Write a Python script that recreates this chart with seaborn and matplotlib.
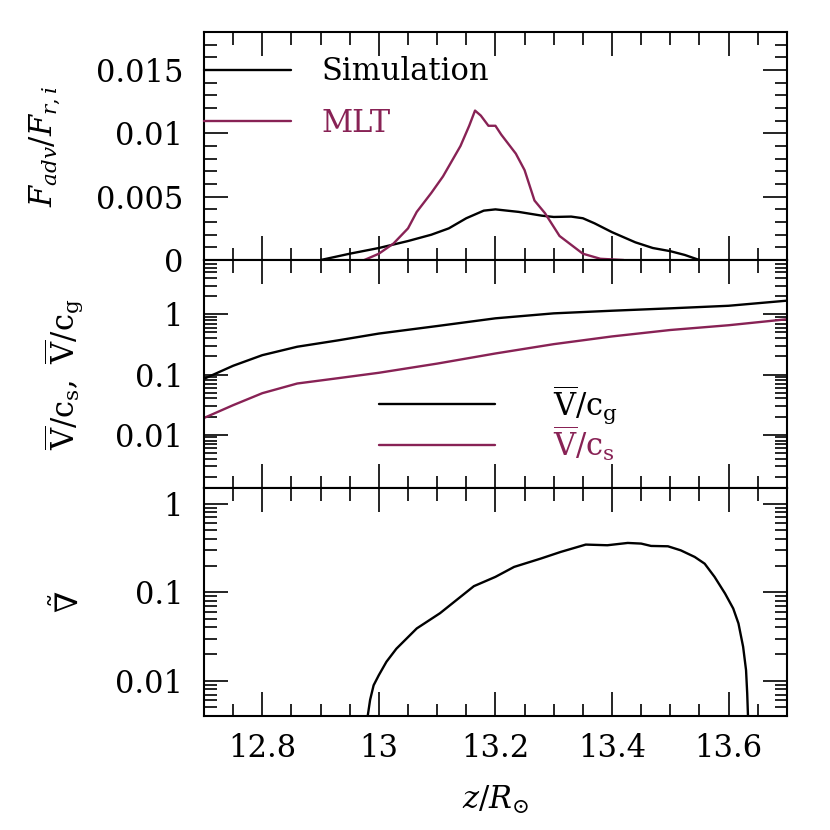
import matplotlib.pyplot as plt
import matplotlib.ticker as mticker
import seaborn as sns

# Top panel: advective flux / radiative flux
sim_z = [12.90, 12.95, 13.00, 13.05, 13.09, 13.12, 13.15, 13.18, 13.20, 13.24,
         13.28, 13.30, 13.33, 13.35, 13.37, 13.40, 13.44, 13.47, 13.50, 13.525, 13.55]
sim_f = [0.0, 0.0005, 0.00095, 0.0015, 0.0020, 0.0025, 0.0033, 0.0039, 0.0040, 0.0038,
         0.0035, 0.0034, 0.00343, 0.0033, 0.0029, 0.0022, 0.0014, 0.00095, 0.0007, 0.0004, 0.0]

mlt_z = [12.975, 13.00, 13.025, 13.05, 13.065, 13.09, 13.11, 13.14, 13.155, 13.165,
         13.175, 13.188, 13.20, 13.21, 13.235, 13.25, 13.267, 13.285, 13.31, 13.35,
         13.38, 13.42]
mlt_f = [0.0, 0.0005, 0.0013, 0.0025, 0.0038, 0.0053, 0.0066, 0.0090, 0.0106, 0.0118,
         0.0114, 0.0106, 0.0106, 0.0099, 0.0084, 0.0071, 0.0047, 0.0037, 0.0019, 0.0005,
         0.0001, 0.0]

# Middle panel: velocity over gas / sound speed
vel_z = [12.70, 12.75, 12.80, 12.86, 12.93, 13.00, 13.10, 13.20, 13.30, 13.40,
         13.50, 13.60, 13.70]
v_cg = [0.085, 0.14, 0.21, 0.29, 0.37, 0.48, 0.64, 0.86, 1.04, 1.15, 1.26, 1.39, 1.69]
v_cs = [0.019, 0.031, 0.049, 0.071, 0.087, 0.107, 0.152, 0.224, 0.32, 0.43, 0.55, 0.66, 0.83]

# Bottom panel: superadiabatic gradient
grad_z = [12.978, 12.985, 12.991, 13.00, 13.013, 13.03, 13.065, 13.105, 13.163, 13.20,
          13.232, 13.278, 13.312, 13.355, 13.392, 13.427, 13.45, 13.467, 13.496, 13.518,
          13.542, 13.559, 13.576, 13.594, 13.608, 13.617, 13.625, 13.63, 13.632, 13.634]
grad = [0.003, 0.0061, 0.0089, 0.0116, 0.0164, 0.023, 0.039, 0.058, 0.117, 0.149,
        0.193, 0.24, 0.285, 0.345, 0.339, 0.36, 0.354, 0.333, 0.33, 0.297,
        0.25, 0.21, 0.149, 0.0966, 0.0655, 0.0444, 0.0242, 0.0132, 0.0072, 0.003]

sns.set_style('ticks')
plt.rcParams['font.family'] = ['DejaVu Serif']
plt.rcParams['mathtext.fontset'] = 'dejavuserif'
plt.rcParams['text.color'] = 'black'
plt.rcParams['axes.labelcolor'] = 'black'
plt.rcParams['xtick.color'] = 'black'
plt.rcParams['ytick.color'] = 'black'

wine = '#882255'
fs = 22
lw = 1.7

fig, axes = plt.subplots(3, 1, figsize=(8.3, 8.3), dpi=100, sharex=True)
fig.subplots_adjust(left=0.2458, right=0.948, top=0.9614, bottom=0.1373, hspace=0)
ax1, ax2, ax3 = axes

fmt = mticker.FuncFormatter(lambda v, p: f'{v:g}')

# top panel
sns.lineplot(x=sim_z, y=sim_f, ax=ax1, color='black', lw=lw, label='Simulation')
sns.lineplot(x=mlt_z, y=mlt_f, ax=ax1, color=wine, lw=lw, label='MLT')
ax1.set_ylim(0, 0.018)
ax1.yaxis.set_major_locator(mticker.MultipleLocator(0.005))
ax1.yaxis.set_minor_locator(mticker.MultipleLocator(0.001))
ax1.yaxis.set_major_formatter(fmt)
ax1.legend(loc='center left', bbox_to_anchor=(0.0, 0.713), frameon=False, fontsize=fs,
           borderpad=0, borderaxespad=0, handlelength=2.85, handletextpad=1.0,
           labelspacing=0.66, labelcolor='linecolor')
ax1.set_ylabel(r'$F_{adv}/F_{r,i}$', fontsize=fs, va='center')
ax1.yaxis.set_label_coords(-0.273, 0.5)

# middle panel
ax2.set_yscale('log')
sns.lineplot(x=vel_z, y=v_cg, ax=ax2, color='black', lw=lw,
             label=r'$\overline{\rm V}/{\rm c_g}$')
sns.lineplot(x=vel_z, y=v_cs, ax=ax2, color=wine, lw=lw,
             label=r'$\overline{\rm V}/{\rm c_s}$')
ax2.set_ylim(0.0013, 8)
ax2.legend(loc='center left', bbox_to_anchor=(0.30, 0.2855), frameon=False, fontsize=fs,
           borderpad=0, borderaxespad=0, handlelength=3.79, handletextpad=1.9,
           labelspacing=-0.07, labelcolor='linecolor')
ax2.set_ylabel(r'$\overline{\rm V}/{\rm c_s},\ \overline{\rm V}/{\rm c_g}$', fontsize=fs, va='center')
ax2.yaxis.set_label_coords(-0.241, 0.5)

# bottom panel
ax3.set_yscale('log')
sns.lineplot(x=grad_z, y=grad, ax=ax3, color='black', lw=lw)
ax3.set_ylim(0.004, 1.5)
ax3.set_ylabel(r'$\tilde{\nabla}$', fontsize=fs, va='center')
ax3.yaxis.set_label_coords(-0.232, 0.5)
ax3.set_xlabel(r'$z/R_{\odot}$', fontsize=fs, va='center')
ax3.xaxis.set_label_coords(0.5, -0.367)

for ax in (ax2, ax3):
    ax.yaxis.set_major_locator(mticker.LogLocator(base=10))
    ax.yaxis.set_minor_locator(mticker.LogLocator(base=10, subs=range(2, 10)))
    ax.yaxis.set_major_formatter(fmt)
    ax.yaxis.set_minor_formatter(mticker.NullFormatter())

ax3.set_xlim(12.7, 13.7)
ax3.xaxis.set_major_locator(mticker.MultipleLocator(0.2))
ax3.xaxis.set_minor_locator(mticker.MultipleLocator(0.05))
ax3.xaxis.set_major_formatter(fmt)

for ax in axes:
    ax.tick_params(which='both', direction='in', top=True, right=True, width=1.2,
                   labelsize=fs, color='black', labelcolor='black')
    ax.tick_params(which='major', length=17)
    ax.tick_params(which='minor', length=9)
    ax.tick_params(axis='x', which='major', pad=12)
    ax.tick_params(axis='y', which='major', pad=15)
    for s in ax.spines.values():
        s.set_linewidth(1.5)
        s.set_color('black')

fig.savefig('out.png', dpi=100)
